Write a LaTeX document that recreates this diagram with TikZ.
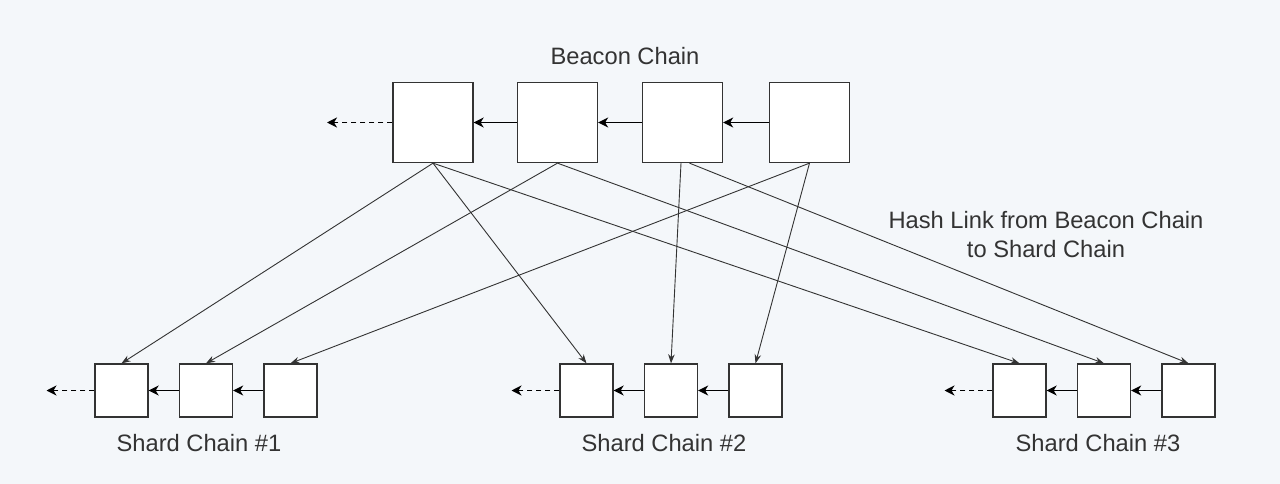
\documentclass[tikz,border=0pt]{standalone}
\usepackage{fontspec}
\setmainfont{Liberation Sans}
\usetikzlibrary{arrows.meta}
\definecolor{bg}{HTML}{F4F7FA}
\definecolor{ink}{HTML}{333333}
\begin{document}
\begin{tikzpicture}[x=1pt,y=-1pt,
  bbox/.style={draw=ink,fill=white,line width=1.3pt,minimum size=80pt,inner sep=0pt},
  sbox/.style={draw=ink,fill=white,line width=1.3pt,minimum size=53pt,inner sep=0pt},
  chainarrow/.style={draw=black,line width=1.6pt,-{Stealth[length=10pt,width=10pt,inset=3pt]}},
  dasharrow/.style={draw=black,line width=1.4pt,dashed,dash pattern=on 5pt off 4pt,-{Stealth[length=10pt,width=10pt,inset=3pt]}},
  link/.style={draw=ink,line width=0.9pt,-{Stealth[length=9pt,width=6.5pt]}},
  lbl/.style={text=ink,font=\fontsize{23.7}{29}\selectfont,inner sep=0pt,align=center}]
\useasboundingbox (0,0) rectangle (1280,484);
\fill[bg] (0,0) rectangle (1280,484);
% beacon chain
\node[bbox] (b1) at (433,122.5) {};
\node[bbox] (b2) at (557.5,122.5) {};
\node[bbox] (b3) at (682.5,122.5) {};
\node[bbox] (b4) at (809.5,122.5) {};
\coordinate (b0) at (327,122.5);
\node[lbl] (bl) at (625,56) {Beacon Chain};
\draw[dasharrow] (b1.west) -- (b0);
\draw[chainarrow] (b2.west) -- (b1.east);
\draw[chainarrow] (b3.west) -- (b2.east);
\draw[chainarrow] (b4.west) -- (b3.east);
% shard chains
\foreach \c/\x in {1/121.5,2/586.5,3/1019.5}{
  \node[sbox] (s\c1) at (\x,390.5) {};
  \node[sbox] (s\c2) at (\x+84.5,390.5) {};
  \node[sbox] (s\c3) at (\x+169,390.5) {};
  \coordinate (s\c0) at (\x-75,390.5);
  \draw[dasharrow] (s\c1.west) -- (s\c0);
  \draw[chainarrow] (s\c2.west) -- (s\c1.east);
  \draw[chainarrow] (s\c3.west) -- (s\c2.east);
}
\node[lbl] (l1) at (199,443) {Shard Chain \#1};
\node[lbl] (l2) at (664,443) {Shard Chain \#2};
\node[lbl] (l3) at (1098,443) {Shard Chain \#3};
\node[lbl] (hl) at (1046,234.5) {Hash Link from Beacon Chain\\to Shard Chain};
% hash links
\draw[link] (b1.south) -- (s11.north);
\draw[link] (b1.south) -- (s21.north);
\draw[link] (b1.south) -- (s31.north);
\draw[link] (b2.south) -- (s12.north);
\draw[link] (b2.south) -- (s32.north);
\draw[link] ([xshift=-1.5pt]b3.south) -- (s22.north);
\draw[link] ([xshift=7pt]b3.south) -- (s33.north);
\draw[link] (b4.south) -- (s13.north);
\draw[link] (b4.south) -- (s23.north);
\end{tikzpicture}
\end{document}
